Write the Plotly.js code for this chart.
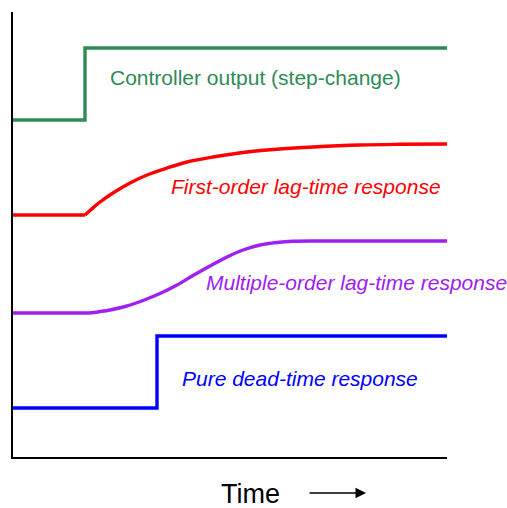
<!DOCTYPE html>
<html>
<head>
<meta charset="utf-8">
<script src="https://cdn.plot.ly/plotly-3.0.1.min.js"></script>
<style>
  html, body { margin: 0; padding: 0; background: #fff; }
  #chart { width: 507px; height: 508px; }
</style>
</head>
<body>
<div id="chart"></div>
<script>
// values, time along x, response level along y
const controllerX = [0, 72, 72, 434];
const controllerY = [337, 337, 409, 409];

const firstOrderX = [0, 72, 77, 87, 100, 117, 134, 154, 174, 200, 234, 267, 300, 347, 387, 434];
const firstOrderY = [242, 242, 246.5, 255, 264, 274, 282, 289, 295, 300, 305, 308, 310, 312, 312.7, 313];

const multiOrderX = [0, 77, 97, 114, 130, 147, 164, 180, 197, 214, 230, 247, 264, 280, 307, 434];
const multiOrderY = [144, 144, 147, 151, 156.5, 163.5, 172, 181.5, 191, 200, 207, 212, 214.5, 215.7, 216, 216];

const deadTimeX = [0, 144, 144, 434];
const deadTimeY = [49, 49, 121, 121];

const labels = [
    { text: 'Controller output (step-change)', x: 95, y: 380, color: '#2e8b57', italic: false },
    { text: 'First-order lag-time response', x: 156, y: 271, color: '#ff0000', italic: true },
    { text: 'Multiple-order lag-time response', x: 191, y: 175, color: '#a020f0', italic: true },
    { text: 'Pure dead-time response', x: 167, y: 79, color: '#0000ff', italic: true },
];

function line(x, y, color, shape) {
    return {
        x, y,
        mode: 'lines',
        type: 'scatter',
        hoverinfo: 'skip',
        line: { color, width: 3.4, shape: shape || 'linear', smoothing: 1 },
        cliponaxis: false,
    };
}

// flat lead-in drawn straight, the rising part smoothed
function lagCurve(x, y, color) {
    let k = 0;
    while (k + 1 < y.length && y[k + 1] === y[0]) k++;
    return [
        line(x.slice(0, k + 1), y.slice(0, k + 1), color),
        line(x.slice(k), y.slice(k), color, 'spline'),
    ];
}

const data = [
    line(controllerX, controllerY, '#2e8b57'),
    ...lagCurve(firstOrderX, firstOrderY, '#ff0000'),
    ...lagCurve(multiOrderX, multiOrderY, '#a020f0'),
    line(deadTimeX, deadTimeY, '#0000ff'),
];

const annotations = labels.map((l) => ({
    text: l.italic ? '<i>' + l.text + '</i>' : l.text,
    x: l.x, y: l.y,
    xref: 'x', yref: 'y',
    xanchor: 'left', yanchor: 'middle',
    showarrow: false,
    font: { family: 'Liberation Sans, Arial, sans-serif', size: 21, color: l.color },
}));

// axis caption and arrow under the plot (paper coords so they are not hidden)
annotations.push({
    text: 'Time',
    x: 237 / 434, y: -37 / 445,
    xref: 'paper', yref: 'paper',
    xanchor: 'center', yanchor: 'middle',
    showarrow: false,
    font: { family: 'Liberation Sans, Arial, sans-serif', size: 27, color: '#000' },
});
annotations.push({
    text: '',
    x: 353 / 434, y: -36 / 445,
    ax: -58, ay: 0,
    xref: 'paper', yref: 'paper',
    showarrow: true,
    arrowhead: 2,
    arrowsize: 1.4,
    arrowwidth: 1.5,
    arrowcolor: '#000',
});

const layout = {
    width: 507,
    height: 508,
    margin: { l: 13, r: 60, t: 12, b: 51 },
    paper_bgcolor: '#fff',
    plot_bgcolor: '#fff',
    showlegend: false,
    hovermode: false,
    xaxis: {
        range: [0, 434],
        showline: true, linecolor: '#000', linewidth: 2,
        showgrid: false, zeroline: false,
        showticklabels: false, ticks: '',
        fixedrange: true,
    },
    yaxis: {
        range: [0, 445],
        showline: true, linecolor: '#000', linewidth: 2,
        showgrid: false, zeroline: false,
        showticklabels: false, ticks: '',
        fixedrange: true,
    },
    annotations,
};

Plotly.newPlot('chart', data, layout, { displayModeBar: false, staticPlot: true });
</script>
</body>
</html>
